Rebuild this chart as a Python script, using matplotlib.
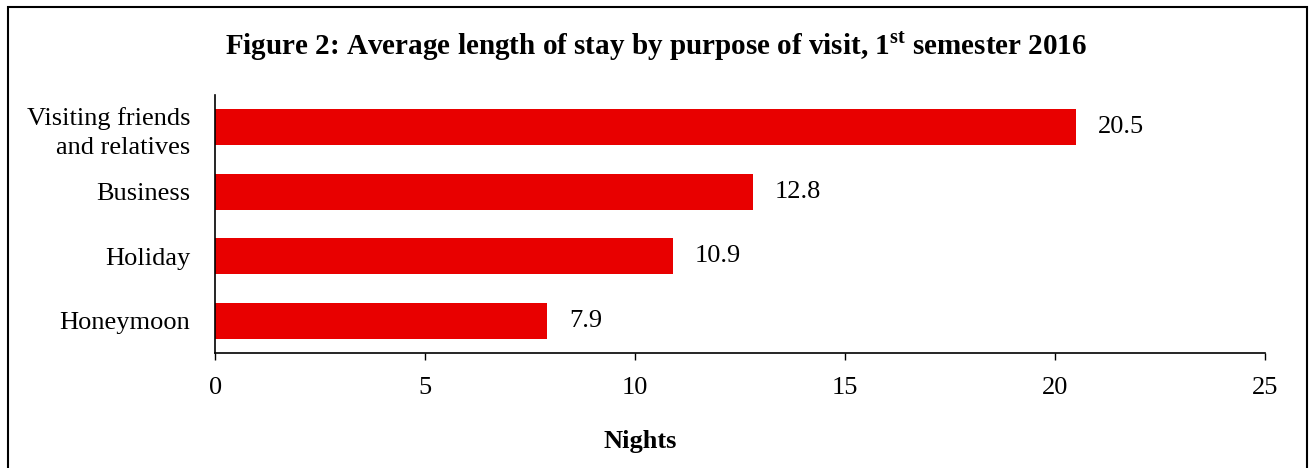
import matplotlib.pyplot as plt
from matplotlib.patches import Rectangle

purposes = ["Honeymoon", "Holiday", "Business", "Visiting friends\nand relatives"]
nights = [7.9, 10.9, 12.8, 20.5]
xticks = [0, 5, 10, 15, 20, 25]

plt.rcParams['font.family'] = ['Liberation Serif', 'DejaVu Serif']
plt.rcParams['mathtext.fontset'] = 'custom'
plt.rcParams['mathtext.bf'] = 'Liberation Serif:bold'
plt.rcParams['mathtext.rm'] = 'Liberation Serif'

fig = plt.figure(figsize=(13.09, 4.68), dpi=100)
ax = fig.add_axes([0.1643, 0.2457, 0.8021, 0.5513])

bars = ax.barh(range(len(purposes)), nights, height=0.56, color="#E80000")
for i, v in enumerate(nights):
    ax.annotate(f"{v:.1f}", (v, i), xytext=(16, 0), textcoords="offset points",
                va="center", ha="left", fontsize=19)

ax.set_xlim(0, 25)
ax.set_ylim(-0.5, len(purposes) - 0.5)
ax.set_xticks(xticks)
ax.set_yticks(range(len(purposes)))
ax.set_yticklabels(purposes, fontsize=19, ha="right", linespacing=1.4)
ax.tick_params(axis="y", length=0, pad=18)
ax.tick_params(axis="x", length=5, width=1, pad=12, labelsize=19, direction="out")
for s in ["top", "right"]:
    ax.spines[s].set_visible(False)
for s in ["left", "bottom"]:
    ax.spines[s].set_linewidth(1.2)

ax.set_xlabel("Nights", fontsize=19, fontweight="bold")
ax.xaxis.label.set_va("center")
ax.xaxis.set_label_coords((640 - 215) / 1050, (353 - 441) / 258)

fig.text(656 / 1309, 1 - 46 / 468,
         r"Figure 2: Average length of stay by purpose of visit, 1$^{\mathbf{st}}$ semester 2016",
         ha="center", va="center", fontsize=21, fontweight="bold")

fig.patches.append(Rectangle((8 / 1309, -0.1), (1307 - 8) / 1309, 1.1 - 7 / 468,
                             transform=fig.transFigure, fill=False,
                             edgecolor="black", linewidth=1.5, clip_on=False))

fig.savefig("out.png", dpi=100)
